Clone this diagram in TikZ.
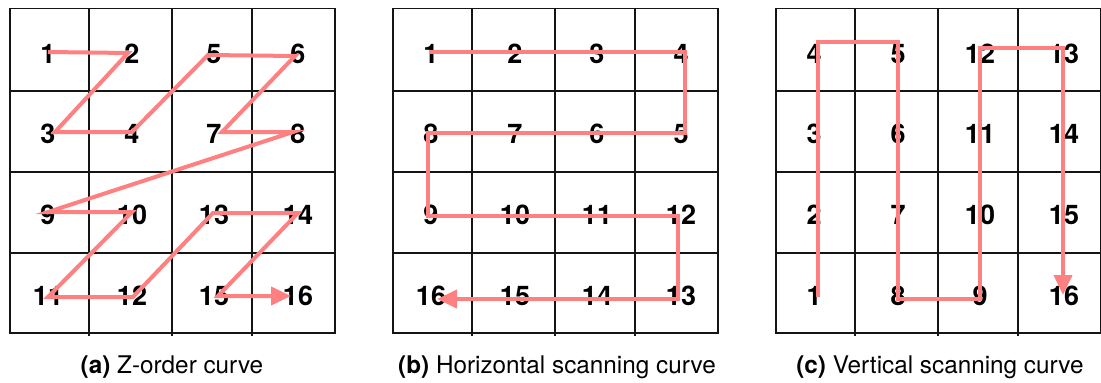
\documentclass[tikz,border=0pt]{standalone}
\usepackage{fontspec}
\setmainfont{TeX Gyre Heros}
\usetikzlibrary{arrows.meta}
\definecolor{curvered}{RGB}{255,128,128}
\definecolor{gridcol}{RGB}{20,20,20}
\tikzset{
  gridline/.style={draw=gridcol, line width=1.1pt},
  num/.style={font=\fontsize{27}{27}\selectfont\bfseries, inner sep=0pt, anchor=center},
  curve/.style={draw=curvered, line width=4pt, line join=miter, line cap=butt},
  curvearrow/.style={curve, -{Triangle[length=20pt,width=18pt]}},
  caption/.style={font=\fontsize{24.3}{24.3}\selectfont, anchor=base, inner sep=0pt}
}
\newcommand{\mygrid}[1]{%
  \draw[gridline] (#1,8.5) rectangle (#1+325,333);
  \foreach \yy in {91,172,253} {\draw[gridline] (#1,\yy) -- (#1+325,\yy);}
  \foreach \xx in {79,162,242} {\draw[gridline] (#1+\xx,8.5) -- (#1+\xx,336);}
}
\newcommand{\mynums}[6]{% #1 prefix, #2 left, #3..#6 rows (comma lists of 4)
  \foreach \v [count=\i] in {#3} {\pgfmathsetmacro\cx{#2+{38,122,204,288}[\i-1]}\node[num] (#1\v) at (\cx,54) {\v};}
  \foreach \v [count=\i] in {#4} {\pgfmathsetmacro\cx{#2+{38,122,204,288}[\i-1]}\node[num] (#1\v) at (\cx,134) {\v};}
  \foreach \v [count=\i] in {#5} {\pgfmathsetmacro\cx{#2+{38,122,204,288}[\i-1]}\node[num] (#1\v) at (\cx,215) {\v};}
  \foreach \v [count=\i] in {#6} {\pgfmathsetmacro\cx{#2+{38,122,204,288}[\i-1]}\node[num] (#1\v) at (\cx,296) {\v};}
}
\begin{document}
\begin{tikzpicture}[x=1pt,y=-1pt]
\useasboundingbox[fill=white] (0,0) rectangle (1101,383);
% grids
\mygrid{10}
\mygrid{393}
\mygrid{776}
% numbers
\mynums{a}{10}{1,2,5,6}{3,4,7,8}{9,10,13,14}{11,12,15,16}
\mynums{b}{393}{1,2,3,4}{8,7,6,5}{9,10,11,12}{16,15,14,13}
\mynums{c}{776}{4,5,12,13}{3,6,11,14}{2,7,10,15}{1,8,9,16}
% curve vertices (a)
\coordinate (pa1) at (48,52);   \coordinate (pa2) at (128,53);
\coordinate (pa3) at (55,132);  \coordinate (pa4) at (132,132);
\coordinate (pa5) at (208,55);  \coordinate (pa6) at (295,56);
\coordinate (pa7) at (222,132); \coordinate (pa8) at (293,132);
\coordinate (pa9) at (48,212);  \coordinate (pa10) at (132,212);
\coordinate (pa11) at (48,297); \coordinate (pa12) at (133,297);
\coordinate (pa13) at (213,213);\coordinate (pa14) at (298,213);
\coordinate (pa15) at (218,296);\coordinate (pa16) at (291,296);
\draw[curvearrow] (pa1) -- (pa2) -- (pa3) -- (pa4) -- (pa5) -- (pa6) -- (pa7) -- (pa8)
  -- (pa9) -- (pa10) -- (pa11) -- (pa12) -- (pa13) -- (pa14) -- (pa15) -- (pa16);
% curve vertices (b)
\coordinate (pb1) at (430,52);  \coordinate (pb4) at (685,52);
\coordinate (pb5) at (685,133); \coordinate (pb8) at (428,133);
\coordinate (pb9) at (428,216); \coordinate (pb12) at (678,216);
\coordinate (pb13) at (678,299);\coordinate (pb16) at (437,299);
\draw[curvearrow] (pb1) -- (pb4) -- (pb5) -- (pb8) -- (pb9) -- (pb12) -- (pb13) -- (pb16);
% curve vertices (c)
\coordinate (pc1) at (818,297); \coordinate (pc4) at (818,42);
\coordinate (pc5) at (898,42);  \coordinate (pc8) at (898,299);
\coordinate (pc9) at (980,299); \coordinate (pc12) at (980,48);
\coordinate (pc13) at (1063,48);\coordinate (pc16) at (1063,295);
\draw[curvearrow] (pc1) -- (pc4) -- (pc5) -- (pc8) -- (pc9) -- (pc12) -- (pc13) -- (pc16);
% captions
\node[caption] (capa) at (172,373) {\textbf{(a)} Z-order curve};
\node[caption] (capb) at (557,373) {\textbf{(b)} Horizontal scanning curve};
\node[caption] (capc) at (940,373) {\textbf{(c)} Vertical scanning curve};
\end{tikzpicture}
\end{document}
